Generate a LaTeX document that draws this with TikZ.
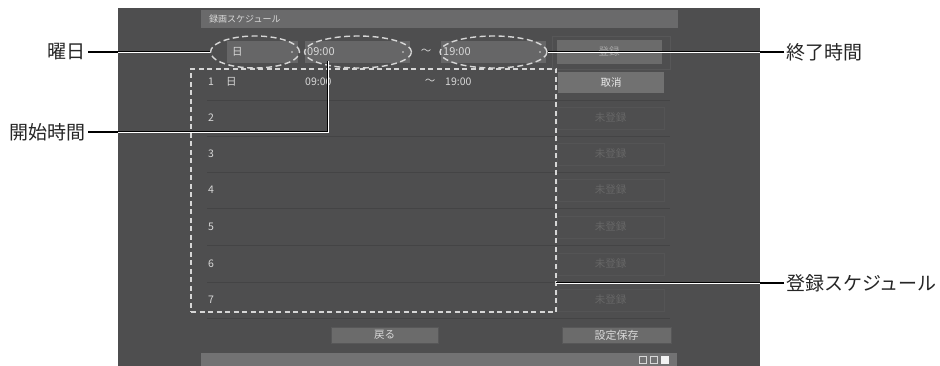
\documentclass[tikz,border=0pt]{standalone}
\usepackage{fontspec}
\setmainfont{Noto Sans CJK JP}
\usetikzlibrary{shapes.geometric}
\definecolor{scrbg}{HTML}{4E4E4F}
\definecolor{barc}{HTML}{6A6A6B}
\definecolor{boxc}{HTML}{666667}
\definecolor{btnc}{HTML}{6B6B6B}
\definecolor{cancelc}{HTML}{717171}
\definecolor{sepc}{HTML}{444445}
\definecolor{dashc}{HTML}{D6D6D6}
\definecolor{txtc}{HTML}{D8D8D8}
\definecolor{dimtxt}{HTML}{676767}
\definecolor{dimline}{HTML}{575758}
\definecolor{faintline}{HTML}{545455}
\definecolor{bottomc}{HTML}{727273}
\begin{document}
\begin{tikzpicture}[x=1pt,y=-1pt,
  box/.style={anchor=north west, inner sep=0pt, outer sep=0pt},
  scrtxt/.style={inner sep=0pt, text=txtc, font=\fontsize{10.5}{10.5}\selectfont},
  tinytxt/.style={inner sep=0pt, text=txtc, font=\fontsize{9}{9}\selectfont},
  lbl/.style={inner sep=2pt, text=black!85, font=\fontsize{19}{19}\selectfont},
  ell/.style={ellipse, draw=dashc, line width=1.4pt, dash pattern=on 6pt off 3.5pt, inner sep=0pt},
  lead/.style={draw=black, line width=1.1pt},
  leadin/.style={draw=black, line width=0.8pt, double=white, double distance=0.9pt},
  unreg/.style={box, draw=faintline, line width=0.6pt, minimum width=107pt, minimum height=22pt}
]
\useasboundingbox (0,0) rectangle (940,366);
\fill[white] (0,0) rectangle (940,366);
% screen
\node[box, fill=scrbg, minimum width=642pt, minimum height=358pt] (screen) at (118,8) {};
\coordinate (scrL) at (118,0);
\coordinate (scrR) at (760,0);
% title bar
\node[box, fill=barc, minimum width=477pt, minimum height=18pt] (title) at (201,10) {};
\node[tinytxt, anchor=west] (ttl) at (209,19) {録画スケジュール};
% input row
\node[box, draw=dimline, line width=0.6pt, minimum width=118pt, minimum height=33pt] (regpanel) at (552,36) {};
\node[box, fill=boxc, minimum width=71pt, minimum height=22pt] (daybox) at (227,41) {};
\node[box, fill=boxc, minimum width=105pt, minimum height=22pt] (startbox) at (305,41) {};
\node[box, fill=boxc, minimum width=105pt, minimum height=22pt] (endbox) at (441,41) {};
\node[box, fill=btnc, minimum width=105pt, minimum height=24pt] (regbtn) at (557,40) {};
\node[scrtxt, anchor=west] (dayt) at (232,52) {日};
\node[scrtxt, anchor=west, font=\fontsize{11}{11}\selectfont] (startt) at (307,52) {09:00};
\node[scrtxt] (tilde0) at (426,52) {～};
\node[scrtxt, anchor=west, font=\fontsize{11}{11}\selectfont] (endt) at (443,52) {19:00};
\node[scrtxt, text=white!65!black] (regt) at (609,52) {登録};
\fill[txtc] (292,52) circle (0.8pt);
\fill[txtc] (403,52) circle (0.8pt);
\fill[txtc] (540,52) circle (0.8pt);
% row separators
\foreach \yy in {100,136,172,208,245,282,318}
  \draw[sepc, line width=0.9pt] (207,\yy) -- (670,\yy);
% row 1
\node[scrtxt, anchor=west] (r1n) at (208,82) {1};
\node[scrtxt, anchor=west] (r1d) at (226,82) {日};
\node[scrtxt, anchor=west] (r1s) at (305,82) {09:00};
\node[scrtxt] (r1t) at (430,82) {～};
\node[scrtxt, anchor=west] (r1e) at (445,82) {19:00};
\node[box, fill=cancelc, minimum width=106pt, minimum height=21pt] (cancel) at (558,72) {};
\node[scrtxt, text=white!92!black] (cancelt) at (611,82.5) {取消};
% rows 2-7
\foreach \n/\yy in {2/118,3/154,4/190,5/227,6/264,7/300}{
  \node[scrtxt, anchor=west] (rn\n) at (208,\yy) {\n};
  \node[unreg] (ub\n) at (557,\yy-11) {};
  \node[scrtxt, text=dimtxt] (ut\n) at (610.5,\yy) {未登録};
}
% bottom buttons
\node[box, fill=btnc, draw=dimline, line width=0.5pt, minimum width=107pt, minimum height=16pt] (back) at (331,327) {};
\node[scrtxt] (backt) at (384.5,335) {戻る};
\node[box, fill=btnc, draw=dimline, line width=0.5pt, minimum width=109pt, minimum height=16pt] (save) at (562,327) {};
\node[scrtxt, font=\fontsize{11}{11}\selectfont] (savet) at (616.5,335) {設定保存};
% bottom bar
\node[box, fill=bottomc, minimum width=476pt, minimum height=13pt] (bbar) at (201,353) {};
\node[box, draw=txtc, line width=0.7pt, minimum width=7pt, minimum height=7pt] (sq1) at (639,356) {};
\node[box, draw=txtc, line width=0.7pt, minimum width=7pt, minimum height=7pt] (sq2) at (650,356) {};
\node[box, fill=white!95!black, minimum width=8pt, minimum height=8pt] (sq3) at (661,355.5) {};
% dashed highlights
\node[box, draw=dashc, line width=1.4pt, dash pattern=on 5pt off 3.5pt, minimum width=365pt, minimum height=243pt] (sched) at (191,69) {};
\node[ell, minimum width=89pt, minimum height=32pt] (e1) at (255,52) {};
\node[ell, minimum width=107pt, minimum height=32pt] (e2) at (358,52) {};
\node[ell, minimum width=107pt, minimum height=32pt] (e3) at (493.5,52) {};
% labels
\node[lbl, anchor=east] (l1) at (88,52) {曜日};
\node[lbl, anchor=east] (l2) at (88,132) {開始時間};
\node[lbl, anchor=west] (l3) at (784,52) {終了時間};
\node[lbl, anchor=west] (l4) at (784,283) {登録スケジュール};
\coordinate (c2) at (328,61);
% leader lines
\draw[lead] (l1.east) -- (e1.west);
\draw[leadin] (l1.east -| scrL) -- (e1.west);
\draw[lead] (l2.east) -| (c2);
\draw[leadin] (l2.east -| scrL) -| (c2);
\draw[lead] (l3.west) -- (e3.east);
\draw[leadin] (l3.west -| scrR) -- (e3.east);
\draw[lead] (l4.west) -- (l4.west -| sched.east);
\draw[leadin] (l4.west -| scrR) -- (l4.west -| sched.east);
\end{tikzpicture}
\end{document}
